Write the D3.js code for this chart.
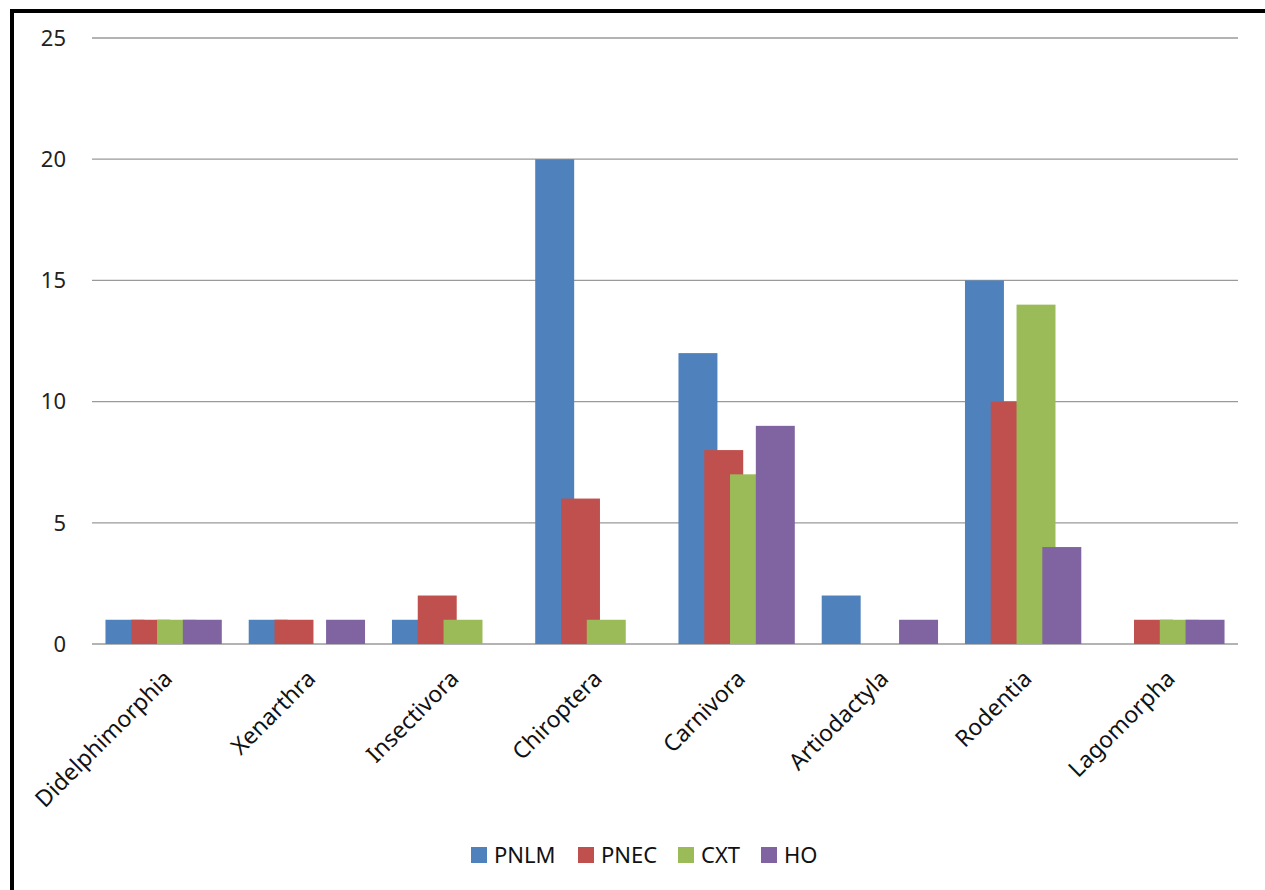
<!DOCTYPE html>
<html>
<head>
<meta charset="utf-8">
<script src="https://cdn.jsdelivr.net/npm/d3@7"></script>
<style>
  body { margin: 0; background: #fff; overflow: hidden; }
  svg { display: block; font-family: "Noto Sans", "DejaVu Sans", sans-serif; }
</style>
</head>
<body>
<div id="chart"></div>
<script>
var categories = ["Didelphimorphia", "Xenarthra", "Insectivora", "Chiroptera",
  "Carnivora", "Artiodactyla", "Rodentia", "Lagomorpha"];
var seriesNames = ["PNLM", "PNEC", "CXT", "HO"];
var pnlm = [1, 1, 1, 20, 12, 2, 15, 0];
var pnec = [1, 1, 2, 6, 8, 0, 10, 1];
var cxt = [1, 0, 1, 1, 7, 0, 14, 1];
var ho = [1, 1, 0, 0, 9, 1, 4, 1];
var yTicks = [0, 5, 10, 15, 20, 25];

var colors = ["#4F81BD", "#C0504D", "#9BBB59", "#8064A2"];
var seriesValues = [pnlm, pnec, cxt, ho];

var W = 1265, H = 890;
var margin = { top: 38, right: 27, bottom: 246, left: 92 };
var width = W - margin.left - margin.right,
  height = H - margin.top - margin.bottom;

var svg = d3.select("#chart").append("svg")
  .attr("width", W)
  .attr("height", H);

// outer frame (right and bottom edges fall outside the picture)
svg.append("rect")
  .attr("x", 12).attr("y", 11)
  .attr("width", W + 20).attr("height", H + 20)
  .attr("fill", "none")
  .attr("stroke", "#000")
  .attr("stroke-width", 4);

var g = svg.append("g")
  .attr("transform", "translate(" + margin.left + "," + margin.top + ")");

var x = d3.scaleBand().domain(categories).range([0, width]).padding(0);
var y = d3.scaleLinear().domain([0, 25]).range([height, 0]);

// gridlines
g.selectAll(".grid").data(yTicks).enter().append("line")
  .attr("class", "grid")
  .attr("x1", 0).attr("x2", width)
  .attr("y1", function(d) { return y(d); })
  .attr("y2", function(d) { return y(d); })
  .attr("stroke", "#9a9a9a")
  .attr("stroke-width", 1.3);

// y labels
g.selectAll(".ylab").data(yTicks).enter().append("text")
  .attr("class", "ylab")
  .attr("x", -26)
  .attr("y", function(d) { return y(d); })
  .attr("dy", "0.35em")
  .attr("text-anchor", "end")
  .attr("font-size", 22)
  .attr("fill", "#222")
  .text(function(d) { return d; });

// bars (overlapping clustered bars, later series drawn on top)
var step = x.bandwidth() * 0.18,
  barW = x.bandwidth() * 0.272;

seriesValues.forEach(function(vals, si) {
  var rows = vals.map(function(v, i) { return { cat: categories[i], v: v }; })
    .filter(function(d) { return d.v > 0; });
  g.append("g").selectAll("rect").data(rows).enter()
    .append("rect")
    .attr("x", function(d) {
      return x(d.cat) + x.bandwidth() / 2 + (si - 1.5) * step - barW / 2;
    })
    .attr("y", function(d) { return y(d.v); })
    .attr("width", barW)
    .attr("height", function(d) { return height - y(d.v); })
    .attr("fill", colors[si]);
});

// x labels
g.selectAll(".xlab").data(categories).enter().append("text")
  .attr("class", "xlab")
  .attr("font-size", 23)
  .attr("fill", "#111")
  .attr("text-anchor", "end")
  .attr("transform", function(d) {
    return "translate(" + (x(d) + x.bandwidth() / 2 + 10) + "," + (height + 36) + ") rotate(-45)";
  })
  .text(function(d) { return d; });

// legend
var legendX = [471, 578, 678, 761];
var legend = svg.append("g");
seriesNames.forEach(function(name, i) {
  legend.append("rect")
    .attr("x", legendX[i]).attr("y", 847)
    .attr("width", 16).attr("height", 16)
    .attr("fill", colors[i]);
  legend.append("text")
    .attr("x", legendX[i] + 23).attr("y", 855)
    .attr("dy", "0.36em")
    .attr("font-size", 22)
    .attr("fill", "#111")
    .text(name);
});
</script>
</body>
</html>
